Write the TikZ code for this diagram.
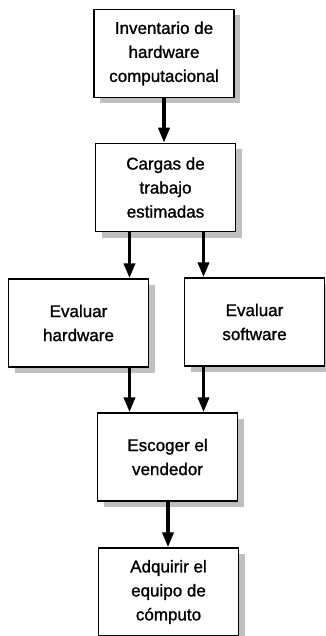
\documentclass[tikz,border=0pt]{standalone}
\usepackage{fontspec}
\setmainfont{Liberation Sans}
\newfontfamily\cajafont[FakeBold=1.2]{Liberation Sans}
\usetikzlibrary{arrows.meta,shadows}

\begin{document}
\begin{tikzpicture}[x=1pt, y=-1pt,
    caja/.style={draw, line width=1.5pt, fill=white,
      minimum width=140pt, minimum height=88pt, align=center,
      font=\cajafont\fontsize{17}{24}\selectfont,
      drop shadow={shadow xshift=6pt, shadow yshift=-6pt,
        fill=black!25, opacity=1}},
    flecha/.style={line width=3.6pt, -{Triangle[width=11pt,length=15pt]}}]
  \useasboundingbox (0,0) rectangle (325,636);

  \node[caja] (inventario) at (164,53.5) {Inventario de\\hardware\\computacional};
  \node[caja] (cargas) at (165.5,187.5) {Cargas de\\trabajo\\estimadas};
  \node[caja] (evalhw) at (78.5,323) {Evaluar\\hardware};
  \node[caja] (evalsw) at (254.5,322) {Evaluar\\software};
  \node[caja] (escoger) at (167.5,457) {Escoger el\\vendedor};
  \node[caja] (adquirir) at (168.5,592) {Adquirir el\\equipo de\\cómputo};

  % columns of the two parallel arrows
  \coordinate (colizq) at (129.5,0);
  \coordinate (colder) at (203.5,0);

  \draw[flecha] (inventario.south -| 164,0) -- (cargas.north -| 164,0);
  \draw[flecha] (cargas.south -| colizq) -- (evalhw.north -| colizq);
  \draw[flecha] (cargas.south -| colder) -- (evalsw.north -| colder);
  \draw[flecha] (evalhw.south -| colizq) -- (escoger.north -| colizq);
  \draw[flecha] (evalsw.south -| colder) -- (escoger.north -| colder);
  \draw[flecha] (escoger.south -| 168,0) -- (adquirir.north -| 168,0);
\end{tikzpicture}
\end{document}
